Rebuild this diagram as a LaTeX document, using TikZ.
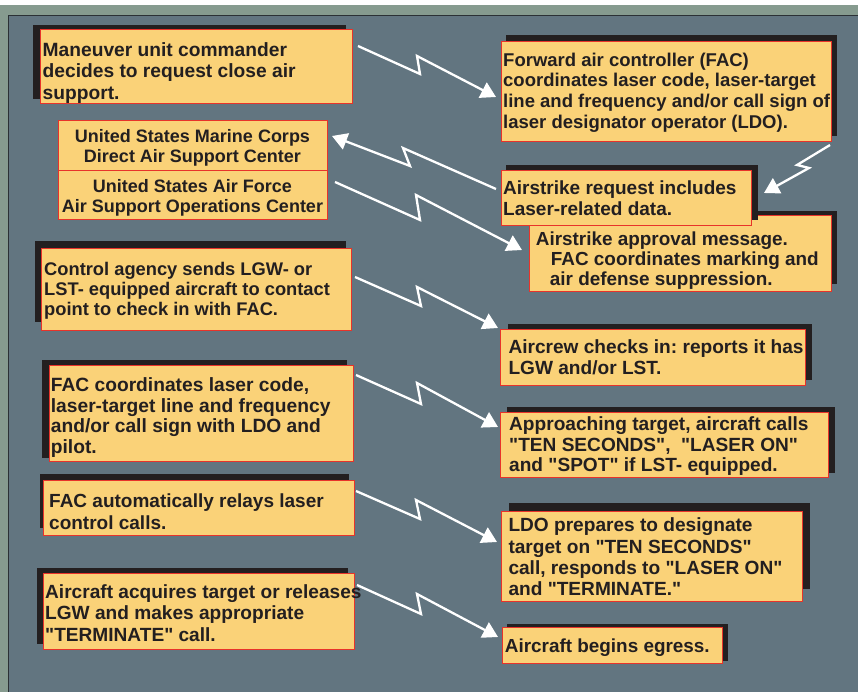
\documentclass[tikz,border=0pt]{standalone}
\usepackage{fontspec}
\setmainfont{Liberation Sans}[Ligatures=TeXOff]
\usetikzlibrary{arrows.meta}
\definecolor{slate}{HTML}{627580}
\definecolor{framec}{HTML}{869B8F}
\definecolor{edgec}{HTML}{2B3135}
\definecolor{note}{HTML}{FAD278}
\definecolor{rim}{HTML}{E8332A}
\definecolor{shade}{HTML}{231F20}
\definecolor{ink}{HTML}{231F20}
\newcommand\myfnt[2]{\fontsize{#1}{#2}\selectfont\bfseries\frenchspacing}
\newcommand\tst{\rule{0pt}{15pt}}
\newcommand\dq{\char34\relax}
\begin{document}
\begin{tikzpicture}[x=1pt,y=-1pt,
  notebox/.style={draw=rim, line width=1pt, fill=note, inner sep=0pt, outer sep=0pt, anchor=north west},
  shadebox/.style={fill=shade},
  notetext/.style={inner sep=0pt, anchor=north west, align=left, text=ink},
  bolt/.style={draw=white, line width=2.3pt, line join=miter, -{Triangle[length=15pt,width=17pt]}}]
\useasboundingbox (0,0) rectangle (858,692);
% background
\fill[white] (0,0) rectangle (858,692);
\fill[framec] (0,5) rectangle (858,692);
\fill[edgec] (7.5,14.8) rectangle (858,692);
\fill[slate] (9,16.3) rectangle (858,692);

% shadows and boxes
\fill[shadebox] (33,25) rectangle (346,99);
\node[notebox, minimum width=312pt, minimum height=74pt] (man) at (40,30) {};

\fill[shadebox] (506,35) rectangle (837,136);
\node[notebox, minimum width=330pt, minimum height=100pt] (fac) at (501,42) {};

\node[notebox, minimum width=269pt, minimum height=50pt] (usmc) at (58,121) {};
\node[notebox, minimum width=269pt, minimum height=49pt] (usaf) at (58,171) {};

\fill[shadebox] (535,211) rectangle (837,284);
\node[notebox, minimum width=302pt, minimum height=75pt] (appr) at (529,216) {};

\fill[shadebox] (506,165) rectangle (758,220);
\node[notebox, minimum width=250pt, minimum height=55pt] (req) at (501,171) {};

\fill[shadebox] (35,241) rectangle (346,322);
\node[notebox, minimum width=310pt, minimum height=81pt] (ctrl) at (41,249) {};

\fill[shadebox] (42,360) rectangle (347,458);
\node[notebox, minimum width=304pt, minimum height=96pt] (facl) at (49,365) {};

\fill[shadebox] (508,324) rectangle (812,380);
\node[notebox, minimum width=305pt, minimum height=56pt] (crew) at (500,329) {};

\fill[shadebox] (507,407) rectangle (835,473);
\node[notebox, minimum width=328pt, minimum height=65pt] (appt) at (500,412) {};

\fill[shadebox] (40,474) rectangle (349,528);
\node[notebox, minimum width=311pt, minimum height=55pt] (auto) at (43,480) {};

\fill[shadebox] (37,568) rectangle (348,644);
\node[notebox, minimum width=311pt, minimum height=76pt] (acq) at (43,573) {};

\fill[shadebox] (509,503) rectangle (810,589);
\node[notebox, minimum width=301pt, minimum height=90pt] (ldo) at (501,511) {};

\fill[shadebox] (507,624) rectangle (728,661);
\node[notebox, minimum width=220pt, minimum height=36pt] (egr) at (502,627) {};

% texts
\node[notetext, font=\myfnt{19.2}{21.5}] (tman) at (42.5,41) {\tst Maneuver unit commander\\decides to request close air\\support.};
\node[notetext, font=\myfnt{18.5}{20.8}] (tfac) at (503,51) {\tst Forward air controller (FAC)\\coordinates laser code, laser-target\\line and frequency and/or call sign of\\laser designator operator (LDO).};
\node[notetext, anchor=north, align=center, font=\myfnt{18}{20}] (tusmc) at (192.5,127.7) {\tst United States Marine Corps\\Direct Air Support Center};
\node[notetext, anchor=north, align=center, font=\myfnt{18}{19.5}] (tusaf) at (192.5,177.7) {\tst United States Air Force\\Air Support Operations Center};
\node[notetext, font=\myfnt{18.9}{20.4}] (tappr) at (535.7,230) {\tst Airstrike approval message.\\\hspace*{15pt}FAC coordinates marking and\\\hspace*{14pt}air defense suppression.};
\node[notetext, font=\myfnt{19}{20.7}] (treq) at (503,179.3) {\tst Airstrike request includes\\Laser-related data.};
\node[notetext, font=\myfnt{18.3}{20}] (tctrl) at (44,260) {\tst Control agency sends LGW- or\\LST- equipped aircraft to contact\\point to check in with FAC.};
\node[notetext, font=\myfnt{19.2}{20.8}] (tfacl) at (50.7,376) {\tst FAC coordinates laser code,\\laser-target line and frequency\\and/or call sign with LDO and\\pilot.};
\node[notetext, font=\myfnt{19.1}{21}] (tcrew) at (508.3,338.3) {\tst Aircrew checks in: reports it has\\LGW and/or LST.};
\node[notetext, font=\myfnt{19.1}{20.8}] (tappt) at (509,415) {\tst Approaching target, aircraft calls\\\dq TEN SECONDS\dq,\ \ \dq LASER ON\dq\\and \dq SPOT\dq{} if LST- equipped.};
\node[notetext, font=\myfnt{19}{21.3}] (tauto) at (49,492.7) {\tst FAC automatically relays laser\\control calls.};
\node[notetext, font=\myfnt{19.1}{21.3}] (tacq) at (45,583.3) {\tst Aircraft acquires target or releases\\LGW and makes appropriate\\\dq TERMINATE\dq{} call.};
\node[notetext, font=\myfnt{19.1}{21.1}] (tldo) at (508.3,516.7) {\tst LDO prepares to designate\\target on \dq TEN SECONDS\dq\\call, responds to \dq LASER ON\dq\\and \dq TERMINATE.\dq};
\node[notetext, font=\myfnt{18.9}{20}] (tegr) at (504.7,637.7) {\tst Aircraft begins egress.};

% connector end points
\coordinate (c1s) at (358,46);  \coordinate (c1e) at (496,97);
\coordinate (c2s) at (496,189); \coordinate (c2e) at (332,136);
\coordinate (c3s) at (335,182); \coordinate (c3e) at (522,250);
\coordinate (c4s) at (830,145); \coordinate (c4e) at (764,193);
\coordinate (c5s) at (355,277); \coordinate (c5e) at (498,328);
\coordinate (c6s) at (356,375); \coordinate (c6e) at (498,427);
\coordinate (c7s) at (356,491); \coordinate (c7e) at (497,542);
\coordinate (c8s) at (357,585); \coordinate (c8e) at (498,637);

% lightning connectors
\draw[bolt] (c1s) -- (420,74) -- (417,56) -- (c1e);
\draw[bolt] (c2s) -- (403,148) -- (410,166) -- (c2e);
\draw[bolt] (c3s) -- (420,220) -- (416,195) -- (c3e);
\draw[bolt] (c4s) -- (797,165) -- (809,168) -- (c4e);
\draw[bolt] (c5s) -- (421,306) -- (417,287) -- (c5e);
\draw[bolt] (c6s) -- (421,404) -- (417,383) -- (c6e);
\draw[bolt] (c7s) -- (420,519) -- (416,500) -- (c7e);
\draw[bolt] (c8s) -- (421,614) -- (417,594) -- (c8e);
\end{tikzpicture}
\end{document}
